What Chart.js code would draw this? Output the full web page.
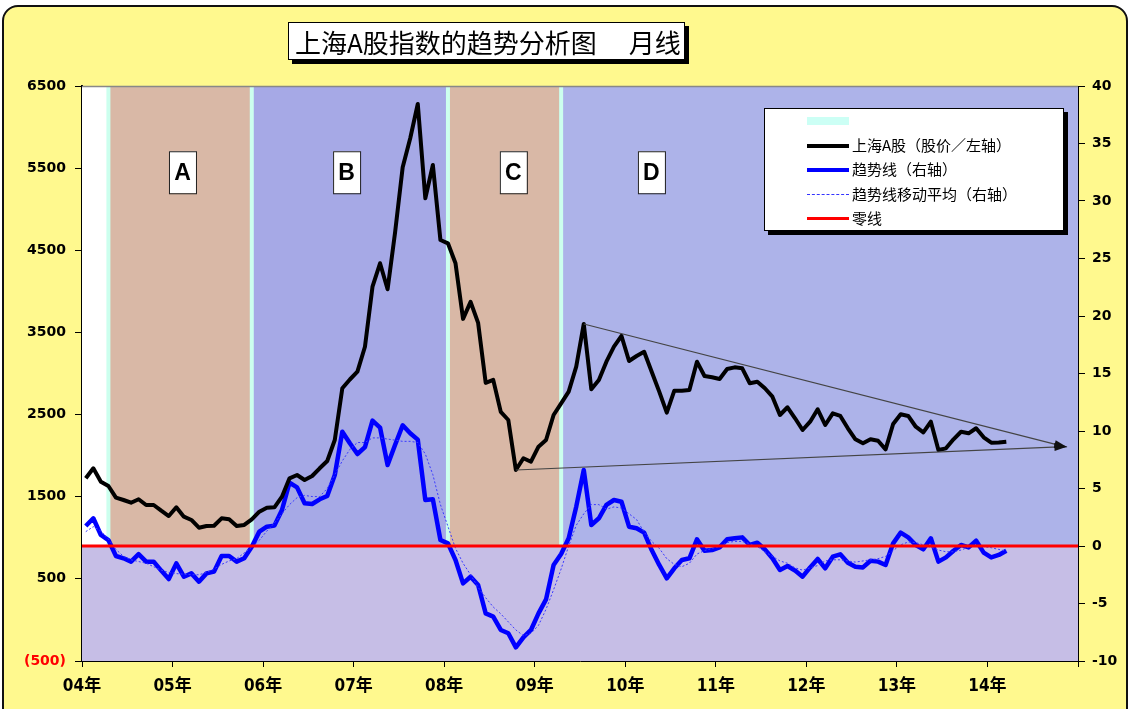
<!DOCTYPE html>
<html>
<head>
<meta charset="utf-8">
<script src="https://cdn.jsdelivr.net/npm/chart.js@4.4.1/dist/chart.umd.min.js"></script>
<style>
  html,body{margin:0;padding:0;background:#fff;}
  #wrap{position:relative;width:1134px;height:709px;overflow:hidden;}
  #frame{position:absolute;left:2px;top:5px;width:1126px;height:740px;background:#FFF98E;border:2px solid #111;border-radius:16px;box-sizing:border-box;}
  canvas{position:absolute;left:0;top:0;}
  #title{position:absolute;left:288px;top:22px;width:397px;height:38px;background:#fff;border:1px solid #000;box-shadow:4px 4px 0 #000;
    font-family:"Noto Sans CJK SC";font-size:26px;line-height:37px;white-space:pre;text-align:left;padding-left:6px;box-sizing:border-box;color:#000;letter-spacing:0;}
  #legend{position:absolute;left:764px;top:108px;width:300px;height:123px;background:#fff;border:1px solid #000;box-shadow:4px 4px 0 #000;box-sizing:border-box;
    font-family:"Noto Sans CJK SC";font-size:15px;color:#000;}
  .row{position:absolute;left:0;height:20px;line-height:20px;}
  .sample{position:absolute;left:42px;width:42px;}
  .ltxt{position:absolute;left:87px;white-space:nowrap;}
</style>
</head>
<body>
<div id="wrap">
  <div id="frame"></div>
  <canvas id="c" width="1134" height="709"></canvas>
  <div id="title">上海A股指数的趋势分析图　 月线</div>
  <div id="legend">
    <div class="row" style="top:5px;width:100%"><div class="sample" style="top:3px;height:8px;background:#CCFFF5;"></div></div>
    <div class="row" style="top:26px;width:100%"><div class="sample" style="top:9px;height:0;border-top:4px solid #000;"></div><div class="ltxt">上海A股（股价／左轴）</div></div>
    <div class="row" style="top:50px;width:100%"><div class="sample" style="top:9px;height:0;border-top:4px solid #0000FF;"></div><div class="ltxt">趋势线（右轴）</div></div>
    <div class="row" style="top:75px;width:100%"><div class="sample" style="top:10px;height:0;border-top:1px dashed #3333FF;"></div><div class="ltxt">趋势线移动平均（右轴）</div></div>
    <div class="row" style="top:99px;width:100%"><div class="sample" style="top:9px;height:0;border-top:3px solid #FF0000;"></div><div class="ltxt">零线</div></div>
  </div>
</div>
<script>
// ---- data (monthly, index 0 = first month on the chart) ----
const yearLabels = ['04年','05年','06年','07年','08年','09年','10年','11年','12年','13年','14年'];

const shanghaiA = [1724,1846,1683,1630,1488,1460,1427,1469,1399,1399,1330,1265,
  1371,1257,1217,1123,1144,1147,1237,1225,1144,1156,1225,1318,
  1366,1371,1500,1724,1764,1703,1752,1846,1935,2190,2820,2927,
  3022,3326,4057,4342,4025,4723,5511,5864,6281,5133,5538,4625,
  4585,4342,3665,3872,3616,2886,2922,2533,2434,1825,1968,1926,
  2109,2190,2495,2637,2779,3083,3603,2808,2921,3144,3326,3457,
  3152,3213,3265,3022,2779,2523,2791,2791,2799,3144,2970,2954,
  2933,3055,3075,3063,2881,2900,2820,2718,2495,2589,2455,2312,
  2413,2564,2373,2515,2483,2333,2199,2150,2199,2182,2077,2385,
  2503,2483,2352,2284,2413,2069,2089,2199,2291,2272,2333,2223,
  2158,2160,2170];

const trendLine = [1.74,2.41,0.96,0.52,-0.87,-1.07,-1.36,-0.70,-1.36,-1.36,-2.14,-2.87,
  -1.51,-2.67,-2.38,-3.10,-2.38,-2.23,-0.87,-0.87,-1.36,-1.07,-0.06,1.25,
  1.68,1.77,3.13,5.51,5.10,3.71,3.65,4.06,4.35,6.17,9.94,8.93,
  8.00,8.60,10.9,10.3,7.04,8.8,10.5,9.8,9.25,4.0,4.06,0.52,
  0.23,-1.22,-3.25,-2.67,-3.39,-5.86,-6.14,-7.30,-7.59,-8.81,-7.94,-7.30,
  -5.86,-4.64,-1.65,-0.70,0.67,3.42,6.61,1.83,2.41,3.57,4.0,3.85,
  1.68,1.54,1.16,-0.35,-1.65,-2.81,-1.94,-1.22,-1.07,0.58,-0.41,-0.35,
  -0.12,0.58,0.67,0.75,0.09,0.29,-0.29,-1.07,-2.09,-1.74,-2.14,-2.67,
  -1.86,-1.13,-1.94,-0.93,-0.72,-1.45,-1.80,-1.86,-1.28,-1.36,-1.65,0.23,
  1.16,0.75,0.09,-0.29,0.67,-1.36,-0.99,-0.41,0.09,-0.12,0.46,-0.58,
  -0.99,-0.78,-0.41];

const trendMA = [1.25,1.68,1.3,0.6,-0.3,-0.9,-1.2,-1.35,-1.5,-1.8,-2.1,-2.3,
  -2.4,-2.45,-2.5,-2.5,-2.3,-2.0,-1.6,-1.3,-1.1,-0.6,-0.1,0.5,
  1.3,2.0,2.8,3.6,4.2,4.4,4.3,4.3,5.0,6.2,7.4,8.4,
  9.0,9.0,9.4,9.4,9.3,9.2,9.1,9.1,9.0,8.0,6.2,3.6,
  1.7,-0.2,-1.5,-2.5,-3.6,-4.5,-5.3,-5.9,-6.6,-7.3,-7.8,-7.6,
  -6.9,-5.5,-3.8,-2.0,0.0,1.8,2.8,3.6,3.6,3.2,3.4,3.3,
  2.8,2.3,1.2,0.4,-0.2,-1.1,-1.6,-1.8,-1.5,-0.7,-0.4,-0.2,
  -0.05,0.3,0.4,0.4,0.2,-0.05,-0.5,-0.9,-1.3,-1.5,-1.9,-2.1,
  -1.9,-1.7,-1.3,-1.2,-1.2,-1.3,-1.4,-1.3,-1.2,-1.1,-0.9,-0.4,
  0.1,0.35,0.3,0.1,-0.1,-0.35,-0.5,-0.5,-0.35,-0.1,0.05,-0.05,
  -0.15,-0.3,-0.45];

// zero line (right axis) from first to last month boundary
const zeroLineIdx = [-0.5, 131.5];
const zeroLineVal = [0, 0];

// hand-drawn triangle trend lines (left axis), month index / index value
const upperTrendIdx = [66, 129.7];
const upperTrendVal = [3603, 2110];
const lowerTrendIdx = [57, 129.7];
const lowerTrendVal = [1825, 2110];

// phases
const phaseNames = ['A','B','C','D'];
const phaseStart = [3, 22, 48, 63];
const phaseEnd   = [22, 48, 63, 131.5];

// ---- layout / style (not data) ----
const phaseFill = ['#D9B8A6','#A6A9E6','#D9B8A6','#ADB3E9'];
const phaseLabelIdx = [12.75, 34.5, 56.6, 74.9];
const phaseLabelVal = 5450;

const toXY = (arr) => arr.map((v,i)=>({x:i+0.5, y:v}));
const pairXY = (idx, val) => idx.map((v,i)=>({x:v+0.5, y:val[i]}));

const bgPlugin = {
  id:'bg',
  beforeDatasetsDraw(chart){
    const {ctx, chartArea:a, scales} = chart;
    const x = scales.x, yR = scales.yR;
    const y0 = yR.getPixelForValue(0);
    ctx.save();
    ctx.fillStyle = '#FFFFFF';
    ctx.fillRect(a.left, a.top, a.right-a.left, y0-a.top);
    phaseStart.forEach((s,i)=>{
      const x1 = x.getPixelForValue(s+0.5), x2 = x.getPixelForValue(Math.min(phaseEnd[i]+0.5,132));
      ctx.fillStyle = phaseFill[i];
      ctx.fillRect(x1, a.top, x2-x1, y0-a.top);
    });
    ctx.fillStyle = '#C6BEE6';
    ctx.fillRect(a.left, y0, a.right-a.left, a.bottom-y0);
    ctx.fillStyle = '#CCFFEE';
    phaseStart.forEach(s=>{
      const xp = x.getPixelForValue(s+0.5);
      ctx.fillRect(xp-2, a.top, 4, y0-a.top);
    });
    ctx.strokeStyle = '#888';
    ctx.lineWidth = 1.5;
    ctx.beginPath(); ctx.moveTo(a.left, a.top+0.5); ctx.lineTo(a.right, a.top+0.5); ctx.stroke();
    const yL = scales.yL;
    ctx.font = 'bold 23px "Liberation Sans", Arial, sans-serif';
    ctx.textAlign = 'center'; ctx.textBaseline = 'middle';
    phaseNames.forEach((n,i)=>{
      const cx = x.getPixelForValue(phaseLabelIdx[i]+0.5), cy = yL.getPixelForValue(phaseLabelVal);
      ctx.fillStyle = '#fff';
      ctx.fillRect(cx-13, cy-21, 27, 42);
      ctx.strokeStyle = '#222'; ctx.lineWidth = 1;
      ctx.strokeRect(cx-13+0.5, cy-21+0.5, 27, 42);
      ctx.fillStyle = '#000';
      ctx.fillText(n, cx+0.5, cy+1);
    });
    ctx.restore();
  },
  afterDatasetsDraw(chart){
    const {ctx} = chart;
    ctx.save();
    [3,4].forEach(di=>{
      const meta = chart.getDatasetMeta(di);
      const p0 = meta.data[0], p1 = meta.data[1];
      const ang = Math.atan2(p1.y-p0.y, p1.x-p0.x);
      const L = 10, W = 4;
      ctx.fillStyle = '#111';
      ctx.beginPath();
      ctx.moveTo(p1.x+Math.cos(ang)*3, p1.y+Math.sin(ang)*3);
      ctx.lineTo(p1.x-Math.cos(ang)*L - Math.sin(ang)*W, p1.y-Math.sin(ang)*L + Math.cos(ang)*W);
      ctx.lineTo(p1.x-Math.cos(ang)*L + Math.sin(ang)*W, p1.y-Math.sin(ang)*L - Math.cos(ang)*W);
      ctx.closePath(); ctx.fill();
    });
    ctx.restore();
  }
};

const tickFont = {family:'"DejaVu Sans", sans-serif', size:14, weight:'bold'};

new Chart(document.getElementById('c'), {
  type:'line',
  data:{
    datasets:[
      {label:'零线', data:pairXY(zeroLineIdx, zeroLineVal), yAxisID:'yR', borderColor:'#FF0000', borderWidth:3, pointRadius:0, order:0},
      {label:'上海A股（股价／左轴）', data:toXY(shanghaiA), yAxisID:'yL', borderColor:'#000000', borderWidth:4, pointRadius:0, borderJoinStyle:'round', order:2},
      {label:'趋势线（右轴）', data:toXY(trendLine), yAxisID:'yR', borderColor:'#0000FF', borderWidth:4.5, pointRadius:0, borderJoinStyle:'round', order:4},
      {label:'upper', data:pairXY(upperTrendIdx, upperTrendVal), yAxisID:'yL', borderColor:'#444', borderWidth:1.2, pointRadius:0, order:1},
      {label:'lower', data:pairXY(lowerTrendIdx, lowerTrendVal), yAxisID:'yL', borderColor:'#444', borderWidth:1.2, pointRadius:0, order:1},
      {label:'趋势线移动平均（右轴）', data:toXY(trendMA), yAxisID:'yR', borderColor:'#3A3AFF', borderWidth:1, borderDash:[2,2], pointRadius:0, order:3}
    ]
  },
  options:{
    responsive:false, animation:false,
    layout:{padding:{top:86,left:0,right:0,bottom:0}},
    plugins:{legend:{display:false}, tooltip:{enabled:false}},
    scales:{
      x:{type:'linear', min:0, max:132,
        afterFit(s){ s.height = 48; },
        ticks:{stepSize:12, autoSkip:false, maxRotation:0, padding:9, color:'#000',
          font:{family:'"DejaVu Sans Condensed", "Noto Sans CJK SC", sans-serif', size:17, weight:'bold'},
          callback:(v)=> yearLabels[v/12] ?? ''},
        grid:{drawOnChartArea:false, drawTicks:true, tickLength:6, tickColor:'#000'},
        border:{color:'#000', width:1}},
      yL:{type:'linear', position:'left', min:-500, max:6500,
        afterFit(s){ s.width = 82; },
        ticks:{stepSize:1000, padding:9, font:tickFont,
          color:(c)=> c.tick && c.tick.value < 0 ? '#FF0000' : '#000',
          callback:(v)=> v < 0 ? '(' + Math.abs(v) + ')' : String(v)},
        grid:{drawOnChartArea:false, drawTicks:true, tickLength:7, tickColor:'#000'},
        border:{color:'#000', width:2}},
      yR:{type:'linear', position:'right', min:-10, max:40,
        afterFit(s){ s.width = 56; },
        ticks:{stepSize:5, padding:7, font:tickFont, color:'#000'},
        grid:{drawOnChartArea:false, drawTicks:true, tickLength:7, tickColor:'#000'},
        border:{color:'#000', width:1}}
    }
  },
  plugins:[bgPlugin]
});
</script>
</body>
</html>
